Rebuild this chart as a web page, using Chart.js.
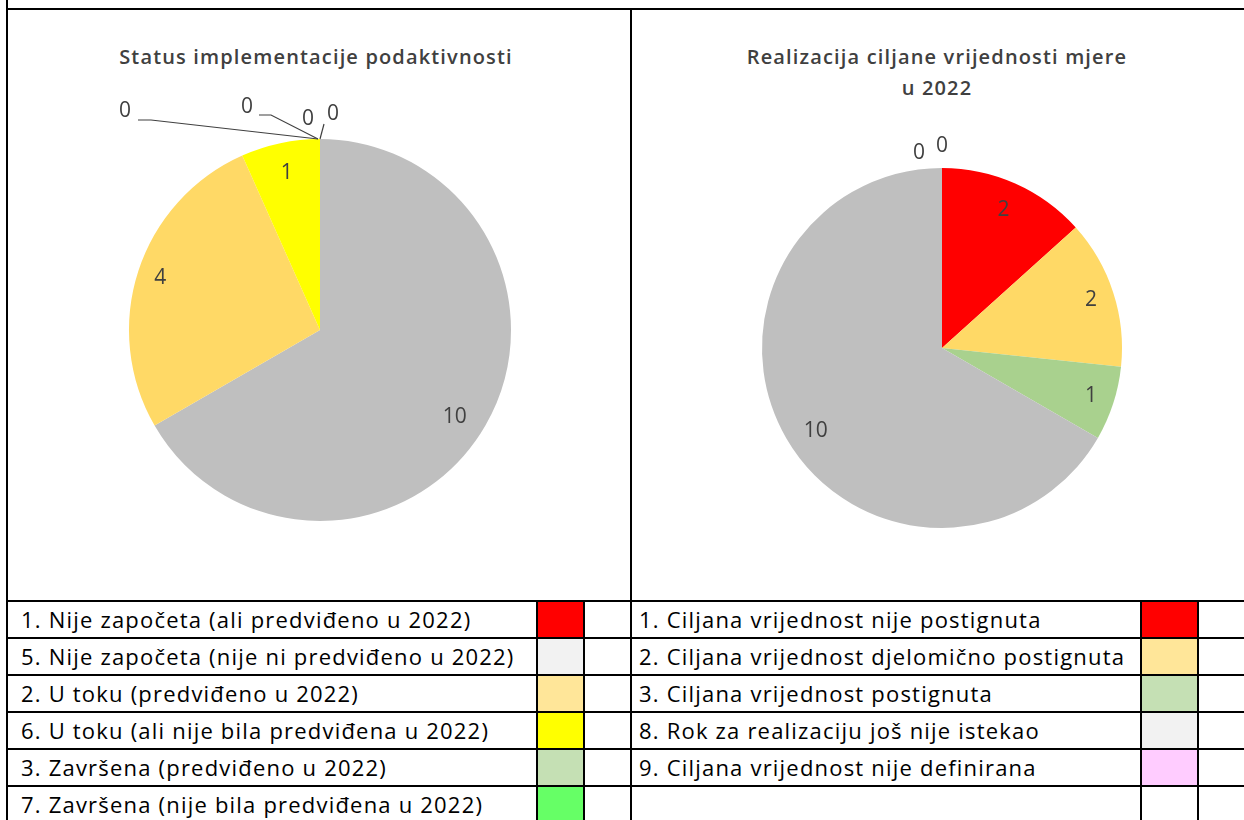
<!DOCTYPE html>
<html>
<head>
<meta charset="utf-8">
<script src="https://cdn.jsdelivr.net/npm/chart.js@4"></script>
<style>
  body { margin: 0; background: #fff; width: 1244px; height: 820px; overflow: hidden; position: relative; font-family: "Open Sans", sans-serif; }
  .ln { position: absolute; background: #000; }
  .title { position: absolute; text-align: center; font-weight: 600; font-size: 20px; letter-spacing: 1.15px; color: #404040; line-height: 31px; }
  .txt { position: absolute; font-size: 22px; letter-spacing: 1.2px; color: #000; line-height: 37px; white-space: nowrap; }
  .sw { position: absolute; }
  canvas { position: absolute; }
</style>
</head>
<body>
<div class="title" style="left:5px;width:622px;top:41px;">Status implementacije podaktivnosti</div>
<div class="title" style="left:631px;width:612px;top:41px;">Realizacija ciljane vrijednosti mjere<br>u 2022</div>
<canvas id="pie1" width="622" height="590" style="left:8px;top:10px;"></canvas>
<canvas id="pie2" width="612" height="590" style="left:632px;top:10px;"></canvas>
<div id="grid"></div>
<script>
// left chart: Status implementacije podaktivnosti
const statusLabels = [
  "5. Nije započeta (nije ni predviđeno u 2022)",
  "2. U toku (predviđeno u 2022)",
  "6. U toku (ali nije bila predviđena u 2022)",
  "1. Nije započeta (ali predviđeno u 2022)",
  "3. Završena (predviđeno u 2022)",
  "7. Završena (nije bila predviđena u 2022)",
  "Ostalo"
];
const statusValues = [10, 4, 1, 0, 0, 0, 0];
const statusColors = ["#BFBFBF", "#FFD966", "#FFFF00", "#FF0000", "#C5E0B4", "#66FF66", "#F2F2F2"];

// right chart: Realizacija ciljane vrijednosti mjere u 2022
const realLabels = [
  "1. Ciljana vrijednost nije postignuta",
  "2. Ciljana vrijednost djelomično postignuta",
  "3. Ciljana vrijednost postignuta",
  "8. Rok za realizaciju još nije istekao",
  "9. Ciljana vrijednost nije definirana",
  "Ostalo"
];
const realValues = [2, 2, 1, 10, 0, 0];
const realColors = ["#FF0000", "#FFD966", "#A9D18E", "#BFBFBF", "#FFCCFF", "#F2F2F2"];

// legend table rows
const legendLeft = [
  ["1. Nije započeta (ali predviđeno u 2022)", "#FF0000"],
  ["5. Nije započeta (nije ni predviđeno u 2022)", "#F2F2F2"],
  ["2. U toku (predviđeno u 2022)", "#FFE699"],
  ["6. U toku (ali nije bila predviđena u 2022)", "#FFFF00"],
  ["3. Završena (predviđeno u 2022)", "#C5E0B4"],
  ["7. Završena (nije bila predviđena u 2022)", "#66FF66"]
];
const legendRight = [
  ["1. Ciljana vrijednost nije postignuta", "#FF0000"],
  ["2. Ciljana vrijednost djelomično postignuta", "#FFE699"],
  ["3. Ciljana vrijednost postignuta", "#C5E0B4"],
  ["8. Rok za realizaciju još nije istekao", "#F2F2F2"],
  ["9. Ciljana vrijednost nije definirana", "#FFCCFF"],
  ["", "#FFFFFF"]
];

// table grid
const grid = document.getElementById("grid");
function add(cls, style, text) {
  const d = document.createElement("div");
  d.className = cls;
  d.style.cssText = style;
  if (text) d.textContent = text;
  grid.appendChild(d);
}
const rowTop = 601, rowH = 37;
legendLeft.forEach((r, i) => {
  const y = rowTop + i * rowH;
  add("txt", `left:21px;top:${y}px;`, r[0]);
  add("sw", `left:537px;top:${y}px;width:46px;height:${rowH}px;background:${r[1]};`);
});
legendRight.forEach((r, i) => {
  const y = rowTop + i * rowH;
  add("txt", `left:639px;top:${y}px;`, r[0]);
  add("sw", `left:1141px;top:${y}px;width:57px;height:${rowH}px;background:${r[1]};`);
});
for (let i = 0; i < 7; i++) {
  add("ln", `left:7px;top:${rowTop - 1 + i * rowH}px;width:1237px;height:2px;`);
}
add("ln", "left:7px;top:8px;width:1237px;height:2px;");
add("ln", "left:6px;top:0;width:2px;height:820px;");
add("ln", "left:630px;top:8px;width:2px;height:812px;");
add("ln", "left:536px;top:600px;width:2px;height:220px;");
add("ln", "left:583px;top:600px;width:2px;height:220px;");
add("ln", "left:1140px;top:600px;width:2px;height:220px;");
add("ln", "left:1197px;top:600px;width:2px;height:220px;");

// draws value labels inside slices, zero values placed near the top with leader lines
const pieLabels = {
  id: "pieLabels",
  afterDatasetsDraw(chart, args, opts) {
    const ctx = chart.ctx;
    const meta = chart.getDatasetMeta(0);
    const values = chart.data.datasets[0].data;
    ctx.save();
    ctx.font = "21px 'Open Sans', sans-serif";
    ctx.fillStyle = "#404040";
    ctx.textAlign = "center";
    ctx.textBaseline = "middle";
    let z = 0;
    meta.data.forEach((arc, i) => {
      const p = arc.getProps(["x", "y", "startAngle", "endAngle", "outerRadius"], true);
      if (values[i] > 0) {
        const mid = (p.startAngle + p.endAngle) / 2 + (opts.shift[i] || 0);
        const r = p.outerRadius * (opts.dist[i] || 0.84);
        ctx.fillText(values[i], p.x + Math.cos(mid) * r, p.y + Math.sin(mid) * r);
      } else {
        const zl = opts.zeros[z++];
        if (!zl) return;
        const tx = p.x + Math.cos(p.startAngle) * p.outerRadius;
        const ty = p.y + Math.sin(p.startAngle) * p.outerRadius;
        if (zl.line) {
          ctx.strokeStyle = "#404040";
          ctx.lineWidth = 1.2;
          ctx.beginPath();
          zl.line.forEach((pt, k) => {
            if (k === 0) ctx.moveTo(tx + pt[0], ty + pt[1]);
            else ctx.lineTo(tx + pt[0], ty + pt[1]);
          });
          ctx.stroke();
        }
        ctx.fillText(values[i], tx + zl.dx, ty + zl.dy);
      }
    });
    ctx.restore();
  }
};

function makePie(id, labels, values, colors, padding, dist, shift, zeros) {
  return new Chart(document.getElementById(id), {
    type: "pie",
    data: {
      labels: labels,
      datasets: [{
        data: values,
        backgroundColor: colors,
        borderWidth: 0,
        hoverOffset: 0
      }]
    },
    options: {
      responsive: false,
      animation: false,
      layout: { padding: padding },
      plugins: {
        legend: { display: false },
        tooltip: { enabled: false },
        pieLabels: { dist: dist, shift: shift, zeros: zeros }
      }
    },
    plugins: [pieLabels]
  });
}

makePie("pie1", statusLabels, statusValues, statusColors,
  { left: 121, right: 119, top: 129, bottom: 79 },
  [0.84, 0.88, 0.84],
  [0.05, 0, 0],
  [
    { dx: -195, dy: -28, line: [[-182, -19], [-169, -19], [-2, 0]] },
    { dx: -73, dy: -32, line: [[-61, -24], [-49, -24], [-2, 0]] },
    { dx: -12, dy: -20 },
    { dx: 13, dy: -25, line: [[4, -15], [0, 0]] }
  ]);

makePie("pie2", realLabels, realValues, realColors,
  { left: 130, right: 122, top: 158, bottom: 72 },
  [0.84, 0.87, 0.87, 0.84],
  [0, 0, 0, -0.06],
  [
    { dx: -23, dy: -15 },
    { dx: 0, dy: -22 }
  ]);
</script>
</body>
</html>
